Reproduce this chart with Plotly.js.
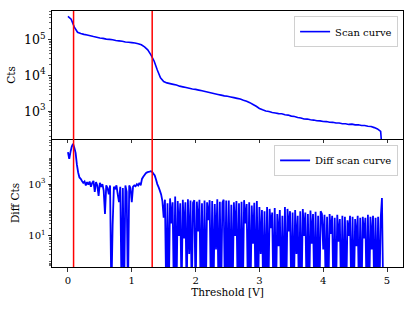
<!DOCTYPE html>
<html>
<head>
<meta charset="utf-8">
<script src="https://cdn.plot.ly/plotly-3.0.1.min.js"></script>
<style>
  html, body { margin: 0; padding: 0; background: #fff; }
  #chart { width: 415px; height: 311px; }
</style>
</head>
<body>
<div id="chart"></div>
<script>
// ---- Data ----
// Scan curve: counts sampled every 0.05 V starting at 0 V
const scanStep = 0.05;
const scanCounts = [
  436000, 363000, 219000, 158000, 145000, 138000, 132000, 126000, 120000, 115000,
  110000, 107000, 102000, 100000, 97700, 93300, 91200, 89100, 85100, 83200,
  81300, 79400, 75900, 70800, 61700, 51300, 37200, 25100, 14100, 8510,
  6760, 6170, 5890, 5620, 5370, 5010, 4790, 4570, 4370, 4170,
  4070, 3890, 3720, 3550, 3390, 3240, 3090, 2950, 2820, 2690,
  2630, 2510, 2400, 2290, 2190, 2040, 1910, 1740, 1550, 1380,
  1200, 1100, 1020, 990, 925, 900, 862, 858, 805, 785,
  735, 715, 670, 652, 612, 608, 580, 570, 545, 542,
  520, 518, 495, 494, 472, 472, 450, 452, 432, 440,
  420, 422, 402, 404, 385, 378, 352, 324, 275, 20
];

// Differential scan curve: counts sampled every 0.02 V starting at 0 V
const diffStep = 0.02;
const diffCounts = [
  // 0.00 - 1.48
  17000, 9500, 17500, 28000, 36000, 25000, 16000, 5600, 2800, 1800,
  1600, 1320, 1120, 1260, 890, 1200, 950, 1260, 790, 1120,
  1320, 500, 1200, 890, 350, 1120, 790, 1000, 560, 70,
  890, 710, 400, 890, 0, 25, 790, 630, 890, 400,
  200, 790, 0, 710, 0, 890, 500, 0, 890, 710,
  200, 790, 890, 830, 1000, 890, 1120, 890, 1580, 1900,
  2240, 2630, 2820, 2950, 3020, 3160, 2950, 2510, 2140, 1510,
  1000, 760, 560, 400, 220,
  // 1.50 - 2.50
  50, 250, 0, 180, 0, 280, 30, 200, 0, 330,
  0, 220, 10, 180, 0, 250, 8, 200, 0, 260,
  2, 230, 0, 190, 240, 0, 210, 15, 250, 0,
  180, 0, 230, 0, 200, 40, 240, 0, 220, 0,
  170, 3, 260, 0, 210, 0, 190, 250, 0, 230, 0,
  // 2.52 - 3.00
  230, 0, 160, 0, 200, 10, 220, 0, 180, 0,
  210, 0, 240, 30, 170, 0, 200, 0, 150, 5,
  190, 0, 220, 0, 130,
  // 3.02 - 3.98
  2, 100, 0, 90, 0, 130, 0, 110, 20, 80,
  0, 120, 0, 70, 4, 100, 0, 60, 0, 130,
  0, 110, 15, 90, 0, 80, 0, 100, 2, 60,
  0, 90, 0, 110, 10, 80, 0, 70, 0, 95,
  5, 70, 0, 85, 0, 60, 0, 90, 70,
  // 4.00 - 4.94
  3, 65, 0, 55, 0, 70, 12, 60, 0, 50,
  0, 65, 6, 45, 0, 60, 0, 55, 0, 40,
  10, 60, 0, 55, 0, 45, 4, 60, 0, 50,
  0, 55, 8, 50, 0, 65, 0, 55, 3, 60,
  0, 50, 0, 55, 0, 45, 290, 0
];

// Marked thresholds (red vertical lines), in V
const markedThresholds = [0.088, 1.32];

const xTickVals = [0, 1, 2, 3, 4, 5];
const diffTickVals = [10, 1000];
const diffTickText = ['10<sup>1</sup>', '10<sup>3</sup>'];
const seriesNames = ['Scan curve', 'Diff scan curve'];

// ---- Build traces ----
const scanX = scanCounts.map((_, i) => +(i * scanStep).toFixed(3));
const diffX = diffCounts.map((_, i) => +(i * diffStep).toFixed(3));
// zero counts cannot be drawn on a log axis; send them below the visible range
const diffPlot = diffCounts.map(v => v > 0 ? v : 0.05);

const blue = '#0000ff';
const font = { family: 'DejaVu Serif, serif', size: 10, color: '#000' };
const titleFont = { family: 'DejaVu Serif, serif', size: 10.5, color: '#000' };

const traces = [
  { x: scanX, y: scanCounts, xaxis: 'x2', yaxis: 'y2', type: 'scatter', mode: 'lines',
    name: seriesNames[0], line: { color: blue, width: 1.6, simplify: false }, legend: 'legend' },
  { x: diffX, y: diffPlot, xaxis: 'x', yaxis: 'y', type: 'scatter', mode: 'lines',
    name: seriesNames[1], line: { color: blue, width: 1.8, simplify: false }, legend: 'legend2' }
];

const shapes = markedThresholds.map(t => ({
  type: 'line', xref: 'x', yref: 'paper', x0: t, x1: t, y0: 0, y1: 1,
  line: { color: '#ff0000', width: 1.5 }
}));

const axisCommon = {
  showline: true, mirror: true, linecolor: '#000', linewidth: 1,
  ticks: 'outside', ticklen: 3.5, tickwidth: 0.8, tickcolor: '#000',
  showgrid: false, zeroline: false, tickfont: font
};
const minorLog = { ticks: 'outside', ticklen: 2, tickwidth: 0.6, tickcolor: '#000', dtick: 'D1' };

const layout = {
  width: 415, height: 311,
  margin: { l: 52, r: 12, t: 11, b: 44 },
  paper_bgcolor: '#fff', plot_bgcolor: '#fff',
  font: font,
  showlegend: true,
  xaxis: Object.assign({}, axisCommon, {
    domain: [0, 1], anchor: 'y', range: [-0.25, 5.25], mirror: false,
    tickvals: xTickVals, ticktext: xTickVals.map(String),
    title: { text: 'Threshold [V]', font: titleFont, standoff: 4 }
  }),
  xaxis2: Object.assign({}, axisCommon, {
    domain: [0, 1], anchor: 'y2', matches: 'x', range: [-0.25, 5.25],
    tickvals: xTickVals, showticklabels: false, ticklen: 3
  }),
  yaxis: Object.assign({}, axisCommon, {
    domain: [0, 0.5], anchor: 'x', type: 'log', range: [-0.2, 4.74],
    tickvals: diffTickVals, ticktext: diffTickText,
    minor: minorLog,
    title: { text: 'Diff Cts', font: titleFont, standoff: 6 }
  }),
  yaxis2: Object.assign({}, axisCommon, {
    domain: [0.5, 1], anchor: 'x2', type: 'log', range: [2.23, 5.79],
    dtick: 1, exponentformat: 'power',
    minor: minorLog,
    title: { text: 'Cts', font: titleFont, standoff: 6 }
  }),
  legend: {
    x: 0.986, xanchor: 'right', y: 0.98, yanchor: 'top',
    bgcolor: 'rgba(255,255,255,0.85)', bordercolor: '#d0d0d0', borderwidth: 1,
    font: font, itemwidth: 30, tracegroupgap: 0
  },
  legend2: {
    x: 0.986, xanchor: 'right', y: 0.477, yanchor: 'top',
    bgcolor: 'rgba(255,255,255,0.85)', bordercolor: '#d0d0d0', borderwidth: 1,
    font: font, itemwidth: 30, tracegroupgap: 0
  },
  shapes: shapes
};

Plotly.newPlot('chart', traces, layout, { staticPlot: true, displayModeBar: false });
</script>
</body>
</html>
